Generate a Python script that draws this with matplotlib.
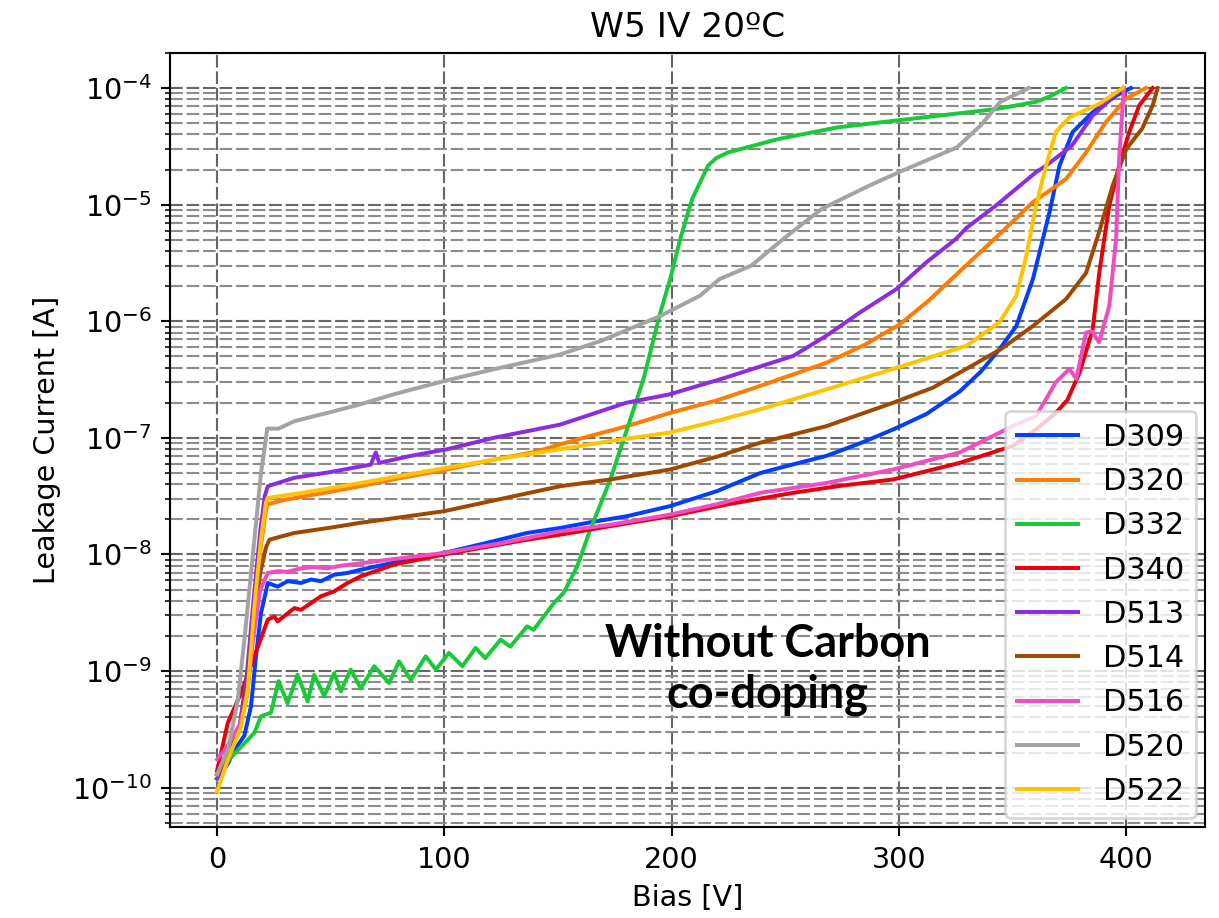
import matplotlib
matplotlib.use("Agg")
import matplotlib.pyplot as plt
from matplotlib.ticker import NullFormatter, FixedLocator

# IV sweeps, wafer W5 at 20 C: (bias [V], leakage current [A])
d309 = [(0, 1.2e-10), (4.7, 1.6e-10), (7.6, 2.1e-10), (12, 2.8e-10), (14.9, 5.0e-10),
        (17.1, 1.34e-9), (19.3, 3.15e-9), (22.3, 5.7e-9), (26.6, 5.3e-9), (31, 5.9e-9),
        (36.9, 5.7e-9), (41.3, 6.1e-9), (45.7, 5.9e-9), (51.5, 6.7e-9), (57.4, 6.95e-9),
        (63.2, 7.4e-9), (80, 8.7e-9), (99.8, 1.03e-8), (118, 1.25e-8), (136.4, 1.53e-8),
        (151, 1.69e-8), (165, 1.9e-8), (180.3, 2.13e-8), (199.3, 2.6e-8), (220, 3.5e-8),
        (239, 5.0e-8), (253, 5.9e-8), (268, 7.0e-8), (283, 9.0e-8), (297.4, 1.18e-7),
        (312, 1.6e-7), (326.7, 2.5e-7), (336, 3.7e-7), (344.2, 5.75e-7), (351.6, 9.1e-7),
        (358.9, 2.3e-6), (366.2, 8.6e-6), (370.6, 2.16e-5), (376.4, 4.2e-5), (385.2, 6.2e-5),
        (395.5, 8.6e-5), (402, 1.0e-4)]

d320 = [(0, 1.3e-10), (4.7, 1.9e-10), (10.5, 3.5e-10), (13.5, 7e-10), (16.4, 3.3e-9),
        (19.3, 1.2e-8), (21.5, 2.4e-8), (22.3, 2.7e-8), (30, 2.95e-8), (40, 3.2e-8),
        (50, 3.45e-8), (63, 3.85e-8), (80, 4.5e-8), (100, 5.3e-8), (121.8, 6.5e-8),
        (140, 7.6e-8), (151, 8.8e-8), (165, 1.05e-7), (180.3, 1.26e-7), (199.3, 1.64e-7),
        (220, 2.1e-7), (238.9, 2.79e-7), (268, 4.4e-7), (285, 6.3e-7), (300.3, 9.4e-7),
        (313, 1.5e-6), (326, 2.6e-6), (343, 5.3e-6), (358.9, 1.05e-5), (373.5, 1.66e-5),
        (382.3, 2.8e-5), (391, 5.1e-5), (399.9, 8.1e-5), (408.6, 1.0e-4)]

d332 = [(0, 1.2e-10), (4.7, 1.7e-10), (12, 2.4e-10), (16.4, 2.95e-10), (19.3, 4.1e-10),
        (23.7, 4.4e-10), (27, 8.2e-10), (31, 5.3e-10), (35.4, 9.3e-10), (39.8, 5.5e-10),
        (42.7, 9.3e-10), (47.1, 6.1e-10), (51.5, 9.6e-10), (54.4, 6.7e-10), (58.8, 1.03e-9),
        (63.2, 7.1e-10), (69.1, 1.1e-9), (75.7, 7.9e-10), (80, 1.21e-9), (85.2, 8.4e-10),
        (91.8, 1.34e-9), (96.2, 1.03e-9), (102, 1.43e-9), (107.9, 1.1e-9), (113.7, 1.58e-9),
        (118, 1.29e-9), (124.7, 1.86e-9), (129, 1.62e-9), (136.4, 2.42e-9), (139.3, 2.26e-9),
        (148, 3.8e-9), (152.5, 4.7e-9), (158.4, 7.9e-9), (164, 1.6e-8), (173, 4.4e-8),
        (180.3, 1.18e-7), (187.6, 3.2e-7), (195, 1.19e-6), (199.3, 2.3e-6), (204, 5.3e-6),
        (209, 1.12e-5), (216, 2.16e-5), (219.5, 2.5e-5), (224.7, 2.8e-5), (247, 3.66e-5),
        (273, 4.6e-5), (300, 5.3e-5), (342.6, 6.6e-5), (360, 7.6e-5), (366, 8.4e-5),
        (373.4, 1.0e-4)]

d340 = [(0, 1.4e-10), (4.7, 3.6e-10), (10.5, 6.5e-10), (16.4, 1.34e-9), (22.3, 2.76e-9),
        (25.2, 2.94e-9), (26.6, 2.67e-9), (34, 3.47e-9), (36.9, 3.35e-9), (45.7, 4.38e-9),
        (51.5, 4.83e-9), (57.4, 5.7e-9), (63.2, 6.5e-9), (77.9, 8.2e-9), (99.8, 1.0e-8),
        (136.4, 1.34e-8), (151, 1.48e-8), (173, 1.75e-8), (199.3, 2.13e-8), (225, 2.7e-8),
        (253.5, 3.38e-8), (275, 3.9e-8), (297.4, 4.4e-8), (326.7, 6.1e-8), (349.9, 8.5e-8),
        (360.3, 1.18e-7), (369, 1.64e-7), (374, 2.1e-7), (379.4, 3.6e-7), (385.2, 8.5e-7),
        (388.1, 2.6e-6), (392.5, 9.8e-6), (396.9, 2.16e-5), (401.3, 4.2e-5), (405.7, 7.1e-5),
        (411.6, 1.0e-4)]

d513 = [(0, 1.2e-10), (4.7, 1.7e-10), (10, 3.5e-10), (13, 9e-10), (16, 4e-9), (19, 1.6e-8),
        (21, 3.2e-8), (22.3, 3.85e-8), (34, 4.55e-8), (50, 5.1e-8), (67.6, 5.9e-8),
        (69.8, 7.5e-8), (71.3, 6.1e-8), (85, 7e-8), (101.3, 8e-8), (121.6, 1.0e-7),
        (151, 1.3e-7), (180, 2.0e-7), (199, 2.36e-7), (224, 3.3e-7), (253.5, 5.05e-7),
        (268, 7.5e-7), (282.8, 1.19e-6), (298.9, 1.89e-6), (312, 3.2e-6), (325, 5.07e-6),
        (329.6, 6.3e-6), (342.6, 9.8e-6), (360.3, 1.9e-5), (364.7, 2.16e-5), (376, 3.2e-5),
        (385.2, 5.8e-5), (398.5, 1.0e-4)]

d514 = [(0, 1.3e-10), (4.7, 1.8e-10), (10, 3.3e-10), (13, 7e-10), (16, 2.5e-9), (19, 7e-9),
        (21.5, 1.15e-8), (23, 1.34e-8), (34, 1.53e-8), (50, 1.7e-8), (63, 1.87e-8),
        (70, 1.95e-8), (99.8, 2.35e-8), (125, 3.0e-8), (151, 3.85e-8), (173, 4.4e-8),
        (199.3, 5.36e-8), (220, 6.9e-8), (239, 9.1e-8), (268, 1.26e-7), (297.4, 2.0e-7),
        (315, 2.7e-7), (329.6, 3.9e-7), (345, 5.8e-7), (358.9, 9.1e-7), (373.5, 1.55e-6),
        (382.3, 2.6e-6), (388, 5.8e-6), (394, 1.46e-5), (400, 3.0e-5), (407, 4.5e-5),
        (411.6, 7.1e-5), (413.8, 1.0e-4)]

d516 = [(0, 1.75e-10), (4.7, 2.3e-10), (10, 3.5e-10), (13, 6e-10), (16, 2.0e-9), (19, 5e-9),
        (22.3, 6.95e-9), (26.6, 7.2e-9), (31, 7.1e-9), (36.9, 7.6e-9), (42.7, 7.8e-9),
        (48.6, 7.6e-9), (54.4, 8.0e-9), (63.2, 8.4e-9), (75, 9e-9), (99.8, 1.03e-8),
        (125, 1.25e-8), (151, 1.58e-8), (173, 1.8e-8), (199.3, 2.2e-8), (220, 2.7e-8),
        (239, 3.38e-8), (268, 4.1e-8), (297.4, 5.36e-8), (326.7, 7.5e-8), (350, 1.26e-7),
        (360.3, 1.54e-7), (369, 3.0e-7), (375, 3.9e-7), (378, 3.2e-7), (382.3, 8e-7),
        (385, 8.2e-7), (388, 6.6e-7), (392.5, 1.35e-6), (395.5, 5.07e-6), (396.9, 2.6e-5),
        (398.4, 7.1e-5), (399, 1.0e-4)]

d520 = [(0, 1.3e-10), (5, 2.2e-10), (9.1, 5.7e-10), (12, 1.86e-9), (16.4, 1.35e-8),
        (19.3, 5e-8), (21.5, 1.0e-7), (22, 1.2e-7), (27, 1.2e-7), (34, 1.39e-7),
        (48.6, 1.64e-7), (63, 1.94e-7), (77.9, 2.37e-7), (100, 3.08e-7), (121.6, 3.87e-7),
        (151, 5.2e-7), (169, 6.8e-7), (195, 1.11e-6), (212.5, 1.66e-6), (221, 2.3e-6),
        (235, 3.0e-6), (249, 5.07e-6), (266, 9.2e-6), (287, 1.46e-5), (300, 1.9e-5),
        (325.5, 3.1e-5), (336, 4.8e-5), (344.5, 7.6e-5), (357, 1.0e-4)]

d522 = [(0, 9.3e-11), (4.7, 1.73e-10), (10.5, 3.3e-10), (13.5, 6.9e-10), (16.4, 3.6e-9),
        (19.3, 1.34e-8), (21.5, 2.8e-8), (22.3, 3.06e-8), (34, 3.3e-8), (50, 3.7e-8),
        (63, 4.1e-8), (80, 4.7e-8), (100, 5.5e-8), (121.7, 6.5e-8), (151, 8.0e-8),
        (173, 9.4e-8), (199, 1.11e-7), (220, 1.4e-7), (239, 1.76e-7), (268, 2.6e-7),
        (297.4, 3.9e-7), (329.6, 6.15e-7), (344.2, 9.8e-7), (351.6, 1.65e-6), (356, 3.65e-6),
        (360.3, 9.8e-6), (364.7, 2.16e-5), (369, 4.2e-5), (375, 5.6e-5), (388, 7.3e-5),
        (398.4, 1.0e-4)]

labels = ['D309', 'D320', 'D332', 'D340', 'D513', 'D514', 'D516', 'D520', 'D522']
sweeps = [d309, d320, d332, d340, d513, d514, d516, d520, d522]
# seaborn "bright" palette
colors = ['#023eff', '#ff7c00', '#1ac938', '#e8000b', '#8b2be2',
          '#9f4800', '#f14cc1', '#a3a3a3', '#ffc400']

plt.rcParams['font.size'] = 10.8

fig = plt.figure(figsize=(6.4, 4.819), dpi=190.5)
ax = fig.add_axes([0.1395, 0.0991, 0.849, 0.8432])

for lab, data, c in zip(labels, sweeps, colors):
    v = [p[0] for p in data]
    i = [p[1] for p in data]
    ax.plot(v, i, color=c, lw=1.5, label=lab)

ax.set_yscale('log')
ax.set_xlim(-20.7, 434.7)
ax.set_ylim(4.6e-11, 2.0e-4)
# only the decades inside the view get a label
ax.yaxis.set_major_locator(FixedLocator([10.0 ** e for e in range(-10, -3)]))
ax.yaxis.set_minor_formatter(NullFormatter())

ax.grid(True, which='major', ls=(0, (6, 1.8)), color='0.4', lw=0.8)
ax.grid(True, which='minor', ls=(0, (6, 1.8)), color='0.55', lw=0.8)

ax.set_title('W5 IV 20ºC', fontsize=13)
ax.set_xlabel('Bias [V]')
ax.set_ylabel('Leakage Current [A]')
ax.legend(loc='lower right', fontsize=11.5, borderaxespad=0.3)

ax.text(0.577, 0.203, 'Without Carbon\nco-doping', transform=ax.transAxes,
        ha='center', va='center', fontsize=17, fontweight='bold',
        family='Lato', linespacing=1.25)

fig.savefig('out.png', dpi=190.5)
